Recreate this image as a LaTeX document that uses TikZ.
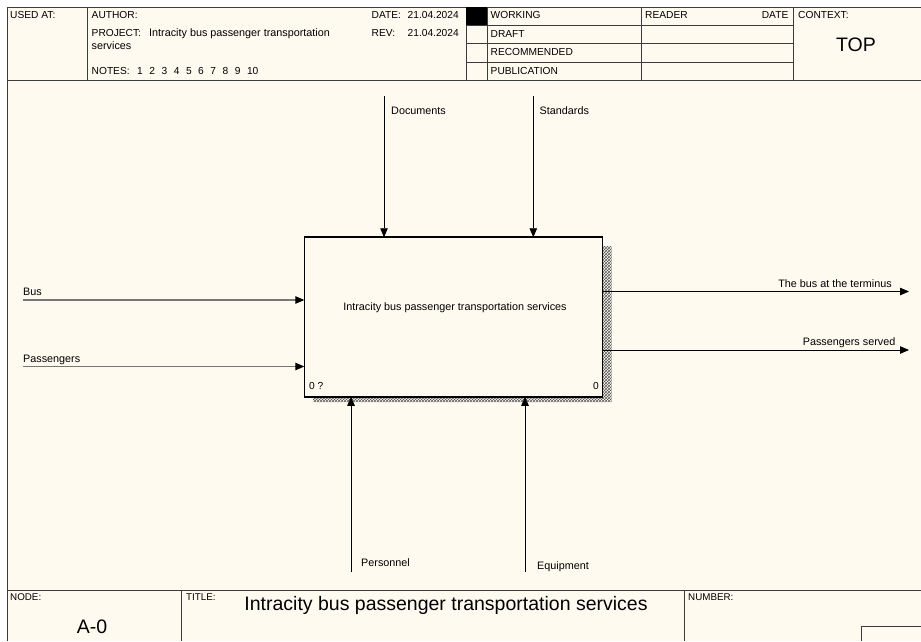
\documentclass[tikz,border=0pt]{standalone}
\usepackage{fontspec}
\setmainfont{Liberation Sans}
\usetikzlibrary{arrows.meta,patterns}
\definecolor{paper}{RGB}{255,250,240}
\definecolor{rulegray}{RGB}{60,60,60}
\definecolor{inline}{RGB}{120,120,120}

\tikzset{
  frame/.style={draw=rulegray,line width=0.9pt},
  hdr/.style={font=\fontsize{10.2}{12}\selectfont,inner sep=0pt,anchor=base west},
  hdrr/.style={hdr,anchor=base east},
  lbl/.style={font=\fontsize{10.8}{12}\selectfont,inner sep=0pt,anchor=base west},
  lblr/.style={lbl,anchor=base east},
  tiny/.style={font=\fontsize{9.8}{10}\selectfont,inner sep=0pt,anchor=base west},
  big/.style={font=\fontsize{19.5}{22}\selectfont,inner sep=0pt,anchor=base},
  arr/.style={line width=0.8pt,-{Triangle[length=9pt,width=7.5pt,color=black]}},
  inarr/.style={arr,draw=inline,line width=1.1pt},
  actbox/.style={draw=black,line width=1.6pt,fill=paper,inner sep=0pt,outer sep=0pt,
    minimum width=298pt,minimum height=159.5pt}
}

\begin{document}
\begin{tikzpicture}[x=1pt,y=-1pt]
  \useasboundingbox (0,0) rectangle (921,641);
  \fill[white] (0,0) rectangle (921,641);
  \fill[paper] (7,7) rectangle (921,641);

  %--- frame / header ---
  \draw[frame] (7,641) -- (7,7) -- (921,7);
  \draw[frame] (7,80) -- (921,80);
  \draw[frame] (87,7) -- (87,80);
  \draw[frame] (466,7) -- (466,80);
  \draw[frame] (487,7) -- (487,80);
  \draw[frame] (641,7) -- (641,80);
  \draw[frame] (793,7) -- (793,80);
  \foreach \y in {25,43,62}
    \draw[frame] (466,\y) -- (793,\y);
  \fill[black] (466,7) rectangle (487,25);

  \node[hdr] (usedat) at (10,18.5) {USED AT:};
  \node[hdr] (author) at (91.5,18.5) {AUTHOR:};
  \node[hdr] (project) at (91.5,36) {PROJECT:};
  \node[lbl] (projname) at (149,36) {Intracity bus passenger transportation};
  \node[lbl] (projname2) at (91.5,49.5) {services};
  \node[hdr] (notes) at (91.5,74) {NOTES:};
  \foreach \n in {1,...,10}
    \node[hdr] (note\n) at (137+12.2*\n-12.2,74) {\n};
  \node[hdr] (date) at (371.5,18.5) {DATE:};
  \node[hdr] (dateval) at (407.5,18.5) {21.04.2024};
  \node[hdr] (rev) at (371.5,36) {REV:};
  \node[hdr] (revval) at (407.5,36) {21.04.2024};
  \node[hdr] (working) at (490.5,18.5) {WORKING};
  \node[hdr] (draft) at (490.5,37) {DRAFT};
  \node[hdr] (recomm) at (490.5,55.5) {RECOMMENDED};
  \node[hdr] (public) at (490.5,74) {PUBLICATION};
  \node[hdr] (reader) at (645,18.5) {READER};
  \node[hdrr] (rdate) at (788.5,18.5) {DATE};
  \node[hdr] (context) at (798,18.5) {CONTEXT:};
  \node[font=\fontsize{19.5}{22}\selectfont,inner sep=0pt,anchor=base] (top) at (856,51) {TOP};

  %--- activity box ---
  \fill[pattern=crosshatch,pattern color=gray!70!black]
    (602,246) -- (611.5,246) -- (611.5,402) -- (313,402) -- (313,397) -- (602,397) -- cycle;
  \node[actbox] (act) at (453.3,317) {};
  \node[lbl,anchor=base] (actname) at (455,310.5)
    {Intracity bus passenger transportation services};
  \node[hdr] (nodenum) at (309,389) {0 ?};
  \node[hdrr] (cost) at (599,389) {0};

  %--- controls ---
  \coordinate (docsin) at (384,96);
  \coordinate (stdsin) at (533.3,96);
  \draw[arr] (docsin) -- (docsin |- act.north);
  \draw[arr] (stdsin) -- (stdsin |- act.north);
  \node[lbl] (docs) at (391,114) {Documents};
  \node[lbl] (stds) at (539.5,114) {Standards};

  %--- inputs ---
  \coordinate (busin) at (23,300);
  \coordinate (passin) at (23,366.5);
  \draw[inarr] (busin) -- (busin -| act.west);
  \draw[inarr] (passin) -- (passin -| act.west);
  \node[lbl] (bus) at (23,295) {Bus};
  \node[lbl] (pass) at (23,362) {Passengers};

  %--- outputs ---
  \coordinate (busout) at (909,291.5);
  \coordinate (passout) at (909,350);
  \draw[arr] (act.east |- busout) -- (busout);
  \draw[arr] (act.east |- passout) -- (passout);
  \node[lblr] (busterm) at (892,287) {The bus at the terminus};
  \node[lblr] (passserv) at (895.5,345) {Passengers served};

  %--- mechanisms ---
  \coordinate (persin) at (351,572);
  \coordinate (equipin) at (525,572);
  \draw[arr] (persin) -- (persin |- act.south);
  \draw[arr] (equipin) -- (equipin |- act.south);
  \node[lbl] (pers) at (361,566.5) {Personnel};
  \node[lbl] (equip) at (537,569.5) {Equipment};

  %--- footer ---
  \draw[frame] (7,590) -- (921,590);
  \draw[frame] (181.5,590) -- (181.5,641);
  \draw[frame] (684,590) -- (684,641);
  \draw[frame] (861,641) -- (861,626.5) -- (921,626.5);
  \node[tiny] (nodelbl) at (10,600.5) {NODE:};
  \node[tiny] (titlelbl) at (186,600.5) {TITLE:};
  \node[tiny] (numlbl) at (688,600.5) {NUMBER:};
  \node[big] (nodeval) at (92,633) {A-0};
  \node[big] (titleval) at (446,610) {Intracity bus passenger transportation services};
\end{tikzpicture}
\end{document}
